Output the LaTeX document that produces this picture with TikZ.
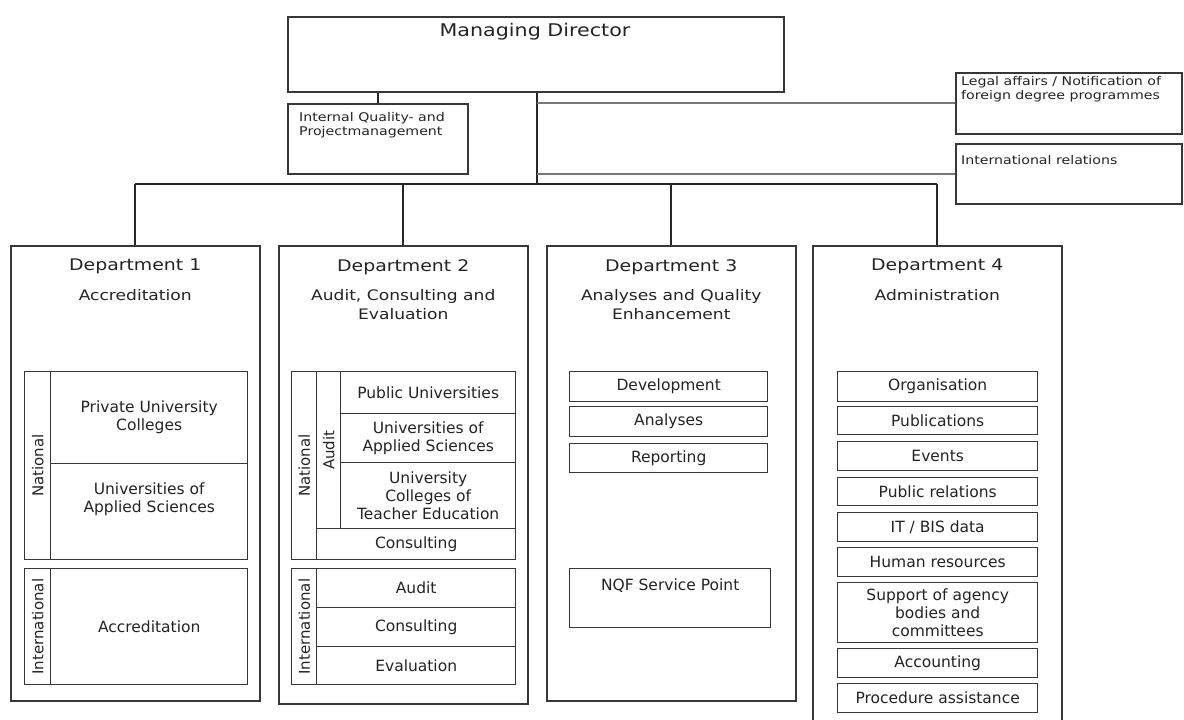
\documentclass[tikz,border=0pt]{standalone}
\usepackage{fontspec}
\setmainfont{DejaVu Sans}
\newfontfamily\widefont{DejaVu Sans}[FakeStretch=1.18]
\definecolor{linegray}{RGB}{55,55,55}
\definecolor{lightline}{RGB}{120,120,120}
\definecolor{textgray}{RGB}{35,35,35}

\begin{document}
\begin{tikzpicture}[x=1pt, y=-1pt, line join=miter,
        orgbox/.style={draw=linegray, line width=1.5pt, inner sep=0pt, anchor=north west},
        cellbox/.style={draw=linegray, line width=1.4pt, inner sep=0pt, anchor=north west, align=center, text=textgray, font=\fontsize{15.5}{18}\selectfont},
        striptext/.style={rotate=90, inner sep=0pt, text=textgray, font=\fontsize{15}{17}\selectfont},
        headtext/.style={anchor=north, inner sep=0pt, align=center, text=textgray, font=\widefont\fontsize{16}{19}\selectfont},
        subtext/.style={anchor=north, inner sep=0pt, align=center, text=textgray, font=\widefont\fontsize{14.5}{19}\selectfont},
        smalltext/.style={anchor=north west, inner sep=0pt, align=left, text=textgray, font=\widefont\fontsize{12}{14.5}\selectfont},
        linkline/.style={draw=black!85, line width=1.6pt}]
        \useasboundingbox (0,0) rectangle (1184,720);
        \clip (0,0) rectangle (1184,720);
        % Top level
        \node[orgbox, minimum width=496pt, minimum height=75pt] (md) at (287,16) {};
        \node[headtext, font=\widefont\fontsize{17.5}{20}\selectfont] (mdtext) at (535,23) {Managing Director};
        \node[orgbox, minimum width=180pt, minimum height=70pt] (iqpm) at (287,103) {};
        \node[smalltext] (iqpmtext) at (299,112) {Internal Quality- and\\Projectmanagement};
        \node[orgbox, minimum width=226pt, minimum height=61pt] (legal) at (955,72) {};
        \node[smalltext] (legaltext) at (961,76) {Legal affairs / Notification of\\foreign degree programmes};
        \node[orgbox, minimum width=226pt, minimum height=60pt] (intrel) at (955,143) {};
        \node[smalltext] (intreltext) at (961,155) {International relations};
        % Departments
        \foreach \d/\x/\h in {1/10/455, 2/278/458, 3/546/455, 4/812/490} {
          \node[orgbox, minimum width=249pt, minimum height=\h pt] (dept\d) at (\x,245) {};
          \node[headtext] (dept\d title) at ([yshift=-14pt]dept\d.north) {Department \d};
        }
        \foreach \d/\sub in {1/Accreditation, 2/{Audit, Consulting and\\Evaluation}, 3/{Analyses and Quality\\Enhancement}, 4/Administration} {
          \node[subtext] (dept\d sub) at ([yshift=-44pt]dept\d.north) {\sub};
        }
        % Connectors
        \coordinate (trunk) at (537,184);
        \draw[linkline] (iqpm.north) -- (iqpm.north |- md.south);
        \draw[linkline] (md.south -| trunk) -- (trunk);
        \draw[linkline, draw=lightline] (trunk |- legal.west) -- (legal.west);
        \draw[linkline, draw=lightline] (trunk |- intrel.west) -- (intrel.west);
        \draw[linkline] (dept1.north |- trunk) -- (dept4.north |- trunk);
        \foreach \d in {1,...,4} {
          \draw[linkline] (dept\d.north) -- (dept\d.north |- trunk);
        }
        % Department 1
        \node[cellbox, minimum width=26pt, minimum height=188pt] (d1natstrip) at (24,371) {};
        \node[striptext] (d1natlabel) at (d1natstrip.center) {National};
        \node[cellbox, minimum width=197pt, minimum height=92pt] (d1private) at (50,371) {Private University\\Colleges};
        \node[cellbox, minimum width=197pt, minimum height=96pt] (d1uas) at (50,463) {Universities of\\Applied Sciences\\[10pt]};
        \node[cellbox, minimum width=26pt, minimum height=116pt] (d1intstrip) at (24,568) {};
        \node[striptext] (d1intlabel) at (d1intstrip.center) {International};
        \node[cellbox, minimum width=197pt, minimum height=116pt] (d1accr) at (50,568) {Accreditation};
        % Department 2
        \node[cellbox, minimum width=25pt, minimum height=188pt] (d2natstrip) at (291,371) {};
        \node[striptext] (d2natlabel) at (d2natstrip.center) {National};
        \node[cellbox, minimum width=24pt, minimum height=157pt] (d2auditstrip) at (316,371) {};
        \node[striptext] (d2auditlabel) at (d2auditstrip.center) {Audit};
        \foreach \name/\x/\y/\w/\h/\txt in {d2public/340/371/175/42/Public Universities,
            d2uas/340/413/175/49/{Universities of\\Applied Sciences},
            d2ucte/340/462/175/66/{University\\Colleges of\\Teacher Education},
            d2natconsult/316/528/199/31/Consulting} {
          \node[cellbox, minimum width=\w pt, minimum height=\h pt] (\name) at (\x,\y) {\txt};
        }
        \node[cellbox, minimum width=25pt, minimum height=116pt] (d2intstrip) at (291,568) {};
        \node[striptext] (d2intlabel) at (d2intstrip.center) {International};
        \foreach \name/\y/\h/\txt in {d2audit/568/39/Audit, d2consult/607/39/Consulting, d2eval/646/38/Evaluation} {
          \node[cellbox, minimum width=199pt, minimum height=\h pt] (\name) at (316,\y) {\txt};
        }
        % Department 3
        \foreach \name/\y/\h/\txt in {d3dev/371/30/Development, d3ana/406/30/Analyses, d3rep/443/29/Reporting} {
          \node[cellbox, minimum width=198pt, minimum height=\h pt] (\name) at (569,\y) {\txt};
        }
        \node[cellbox, minimum width=201pt, minimum height=59pt] (d3nqf) at (569,568) {};
        \node[cellbox, draw=none, anchor=north] (d3nqftext) at ([yshift=-10pt]d3nqf.north) {NQF Service Point};
        % Department 4
        \foreach \name/\y/\h/\txt in {d4org/371/30/Organisation, d4pub/406/28/Publications, d4events/441/29/Events,
            d4pr/477/28/Public relations, d4it/512/29/{IT / BIS data}, d4hr/547/29/Human resources,
            d4support/582/60/{Support of agency\\bodies and\\committees}, d4acc/648/29/Accounting,
            d4proc/683/29/Procedure assistance} {
          \node[cellbox, minimum width=200pt, minimum height=\h pt] (\name) at (837,\y) {\txt};
        }
\end{tikzpicture}
\end{document}
